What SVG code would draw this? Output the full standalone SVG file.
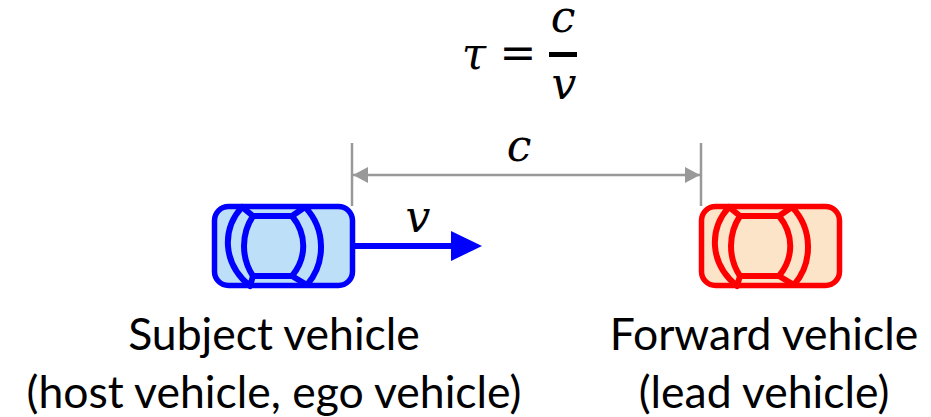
<svg xmlns="http://www.w3.org/2000/svg" width="931" height="417" viewBox="0 0 931 417">
<style>
.t{font-family:"Lato","Noto Sans",sans-serif;font-size:44.500px;fill:#000;text-anchor:middle}
.m{font-family:"DejaVu Serif",serif;font-style:italic;fill:#000;text-anchor:middle}
.dim{stroke:#999;stroke-width:2.500;fill:none}
.car{stroke-width:6;stroke-linejoin:round;stroke-linecap:round;fill:none}
</style>
<defs>
<marker id="g" markerUnits="userSpaceOnUse" markerWidth="16" markerHeight="16" refX="15" refY="8" orient="auto-start-reverse"><path d="M0,0L15,8L0,16z" fill="#999"/></marker>
<g id="carlines" class="car">
<path d="M41,12C29,30 29,54 41,72L80,72C95,54 95,30 80,12Z"/>
<path d="M41,12L30,3C10,25 10,59 38,82L41,72"/>
<path d="M80,12L93,3C114,25 114,59 95,81L80,72"/>
</g>
</defs>
<g id="connectors">
<line class="dim" x1="352" y1="143" x2="352" y2="206"/>
<line class="dim" x1="701" y1="143" x2="701" y2="206"/>
<line class="dim" x1="353" y1="175" x2="700" y2="175" marker-start="url(#g)" marker-end="url(#g)"/>
<line x1="352" y1="246" x2="454" y2="246" stroke="#00f" stroke-width="6"/>
<path d="M451,231L482,246L451,261z" fill="#00f"/>
</g>
<g id="formula">
<text class="m" x="474" y="69" font-size="44">τ</text>
<text class="m" x="518" y="68" font-size="44" style="font-style:normal">=</text>
<text class="m" x="563" y="32" font-size="44">c</text>
<rect x="549" y="52" width="28" height="5" fill="#000"/>
<text class="m" x="564" y="99" font-size="44">v</text>
<text class="m" x="519" y="161" font-size="44">c</text>
<text class="m" x="418" y="232" font-size="44">v</text>
</g>
<g id="subject-vehicle">
<rect x="214.500" y="206.500" width="138" height="79" rx="14" fill="#bddff7" stroke="#00f" stroke-width="5.500"/>
<use href="#carlines" x="212" y="204" stroke="#00f"/>
<text class="t" x="274" y="350">Subject vehicle</text>
<text class="t" x="274" y="408">(host vehicle, ego vehicle)</text>
</g>
<g id="forward-vehicle">
<rect x="701.500" y="206.500" width="138" height="79" rx="14" fill="#fce4c8" stroke="#f00" stroke-width="5.500"/>
<use href="#carlines" x="699" y="204" stroke="#f00"/>
<text class="t" x="764" y="350">Forward vehicle</text>
<text class="t" x="764" y="408">(lead vehicle)</text>
</g>
</svg>
